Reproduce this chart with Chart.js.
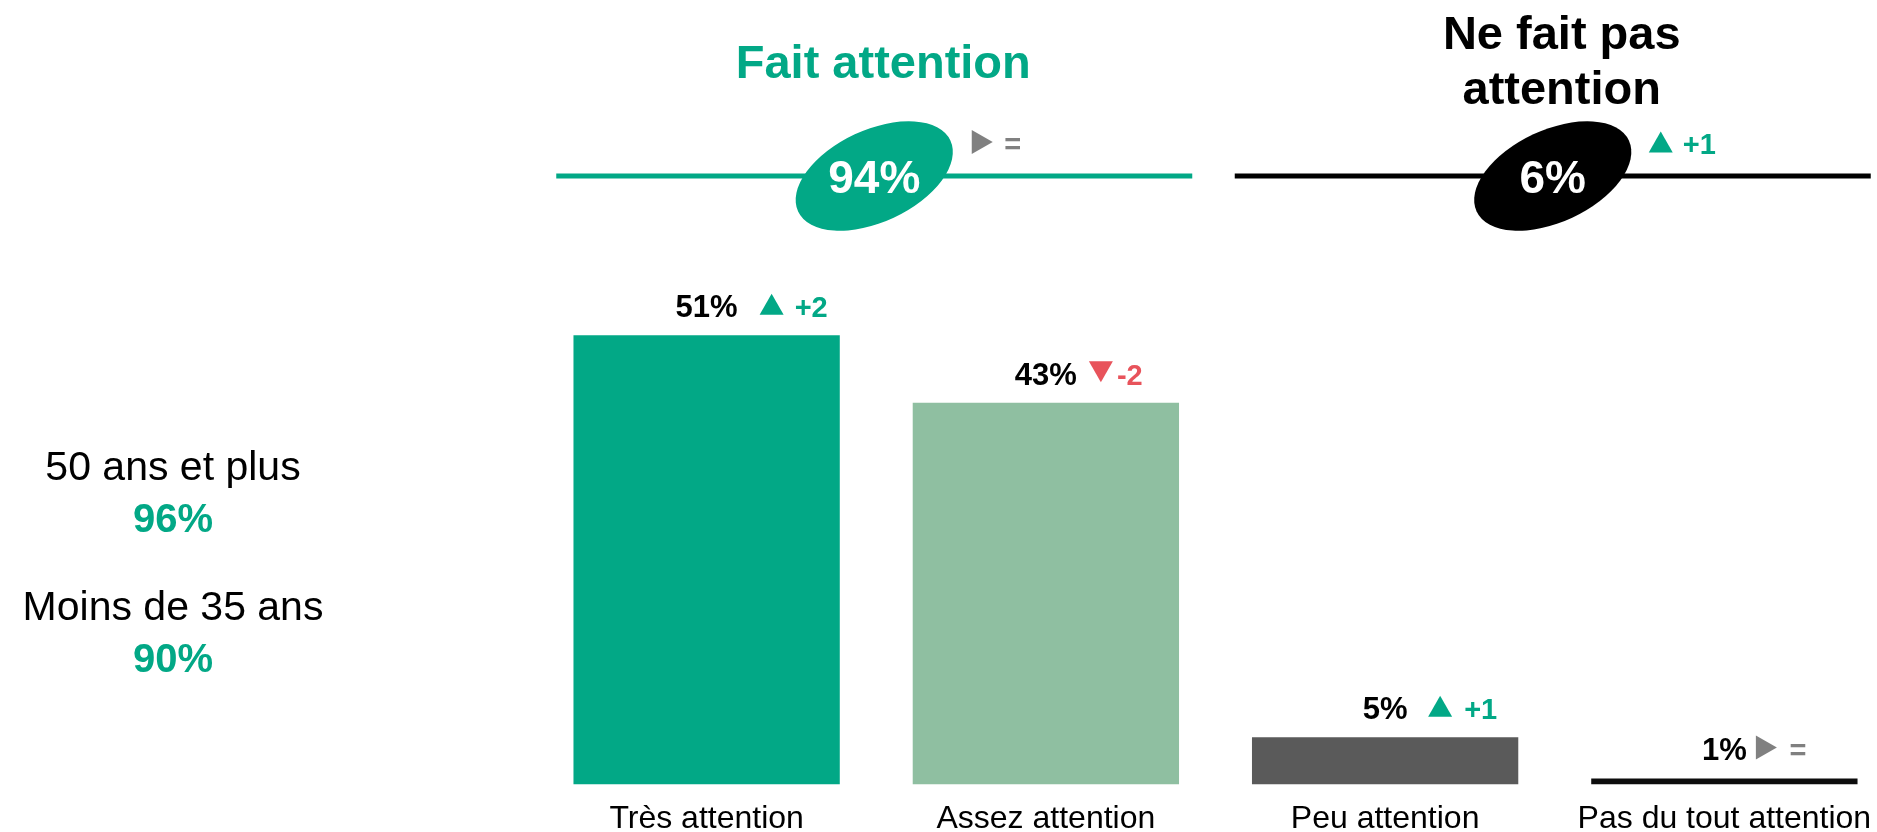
<!DOCTYPE html>
<html>
<head>
<meta charset="utf-8">
<script src="https://cdn.jsdelivr.net/npm/chart.js@4.4.0/dist/chart.umd.min.js"></script>
<style>
  html, body { margin: 0; padding: 0; overflow: hidden; background: #fff; }
  .wrap { position: relative; width: 1900px; height: 853px; }
</style>
</head>
<body>
<div class="wrap"><canvas id="chart"></canvas></div>
<script>
const categories = ['Très attention', 'Assez attention', 'Peu attention', 'Pas du tout attention'];
const values = [51.3, 43.6, 5.4, 0.7];
const valueLabels = ['51%', '43%', '5%', '1%'];
const trends = ['up', 'down', 'up', 'same'];
const trendLabels = ['+2', '-2', '+1', '='];

const groupTitles = [['Fait attention'], ['Ne fait pas', 'attention']];
const groupMembers = [[0, 1], [2, 3]];
const groupTotals = ['94%', '6%'];
const groupTrends = ['same', 'up'];
const groupTrendLabels = ['=', '+1'];

const ageGroups = ['50 ans et plus', 'Moins de 35 ans'];
const ageValues = ['96%', '90%'];

const GREEN = '#02a886';
const RED = '#e8535b';
const GREY = '#808080';
const barColors = [GREEN, '#8fbfa1', '#5a5a5a', '#0d0d0d'];
const groupColors = [GREEN, '#000000'];
const trendColors = { up: GREEN, down: RED, same: GREY };
const FONT = '"Liberation Sans", Arial, sans-serif';

// where the trend marks sit, from the bar centre
const trendMarkDx = [65, 55, 55, 42];
const trendTextDx = [88, 71, 79, 65];

function drawTrend(ctx, kind, cx, cy) {
    const w = kind === 'same' ? 21 : 24;
    const h = kind === 'same' ? 24 : 21;
    ctx.fillStyle = trendColors[kind];
    ctx.beginPath();
    if (kind === 'up') {
        ctx.moveTo(cx - w / 2, cy + h / 2);
        ctx.lineTo(cx + w / 2, cy + h / 2);
        ctx.lineTo(cx, cy - h / 2);
    } else if (kind === 'down') {
        ctx.moveTo(cx - w / 2, cy - h / 2);
        ctx.lineTo(cx + w / 2, cy - h / 2);
        ctx.lineTo(cx, cy + h / 2);
    } else {
        ctx.moveTo(cx - w / 2, cy - h / 2);
        ctx.lineTo(cx - w / 2, cy + h / 2);
        ctx.lineTo(cx + w / 2, cy);
    }
    ctx.closePath();
    ctx.fill();
}

const decorPlugin = {
    id: 'decor',
    afterDatasetsDraw(chart) {
        const ctx = chart.ctx;
        const meta = chart.getDatasetMeta(0);
        ctx.save();

        // value labels + trend over each bar
        meta.data.forEach((bar, i) => {
            const base = bar.y - 18;
            ctx.font = 'bold 31px ' + FONT;
            ctx.fillStyle = '#000';
            ctx.textAlign = 'center';
            ctx.textBaseline = 'alphabetic';
            ctx.fillText(valueLabels[i], bar.x, base);
            drawTrend(ctx, trends[i], bar.x + trendMarkDx[i], base - 13);
            ctx.font = 'bold 29px ' + FONT;
            ctx.fillStyle = trendColors[trends[i]];
            ctx.textAlign = 'left';
            ctx.fillText(trendLabels[i], bar.x + trendTextDx[i], base);
        });

        // group headers
        const xs = chart.scales.x;
        groupMembers.forEach((m, g) => {
            const mid = (xs.getPixelForValue(m[0]) + xs.getPixelForValue(m[1])) / 2;
            const cx = mid - 2;
            const cy = 176;

            ctx.strokeStyle = groupColors[g];
            ctx.lineWidth = 5;
            ctx.beginPath();
            ctx.moveTo(cx - 318, cy);
            ctx.lineTo(cx + 318, cy);
            ctx.stroke();

            ctx.fillStyle = groupColors[g];
            ctx.beginPath();
            ctx.ellipse(cx, cy, 84, 46, -25 * Math.PI / 180, 0, Math.PI * 2);
            ctx.fill();

            ctx.font = 'bold 46px ' + FONT;
            ctx.fillStyle = '#fff';
            ctx.textAlign = 'center';
            ctx.fillText(groupTotals[g], cx, 193);

            ctx.font = 'bold 47px ' + FONT;
            ctx.fillStyle = groupColors[g];
            const lines = groupTitles[g];
            const firstBase = lines.length === 1 ? 78 : 49;
            lines.forEach((t, k) => ctx.fillText(t, mid + 7, firstBase + k * 55));

            drawTrend(ctx, groupTrends[g], cx + 108, 142);
            ctx.font = 'bold 29px ' + FONT;
            ctx.fillStyle = trendColors[groupTrends[g]];
            ctx.textAlign = 'left';
            ctx.fillText(groupTrendLabels[g], cx + 130, 154);
        });

        // age breakdown on the left
        ctx.textAlign = 'center';
        ageGroups.forEach((t, k) => {
            const y = 480 + k * 140;
            ctx.font = '41px ' + FONT;
            ctx.fillStyle = '#000';
            ctx.fillText(t, 173, y);
            ctx.font = 'bold 40px ' + FONT;
            ctx.fillStyle = GREEN;
            ctx.fillText(ageValues[k], 173, y + 52);
        });

        ctx.restore();
    }
};

new Chart(document.getElementById('chart'), {
    type: 'bar',
    data: {
        labels: categories,
        datasets: [{
            data: values,
            backgroundColor: barColors,
            borderWidth: 0,
            categoryPercentage: 1,
            barPercentage: 0.785
        }]
    },
    options: {
        responsive: true,
        maintainAspectRatio: false,
        animation: false,
        layout: {
            padding: { left: 537, right: 6, top: 259, bottom: 0 }
        },
        scales: {
            x: {
                grid: { display: false, drawTicks: false },
                border: { display: false },
                ticks: {
                    color: '#000',
                    padding: 15,
                    maxRotation: 0,
                    autoSkip: false,
                    font: { size: 32, family: FONT }
                }
            },
            y: {
                display: false,
                min: 0,
                max: 60
            }
        },
        plugins: {
            legend: { display: false },
            tooltip: { enabled: false }
        }
    },
    plugins: [decorPlugin]
});
</script>
</body>
</html>
